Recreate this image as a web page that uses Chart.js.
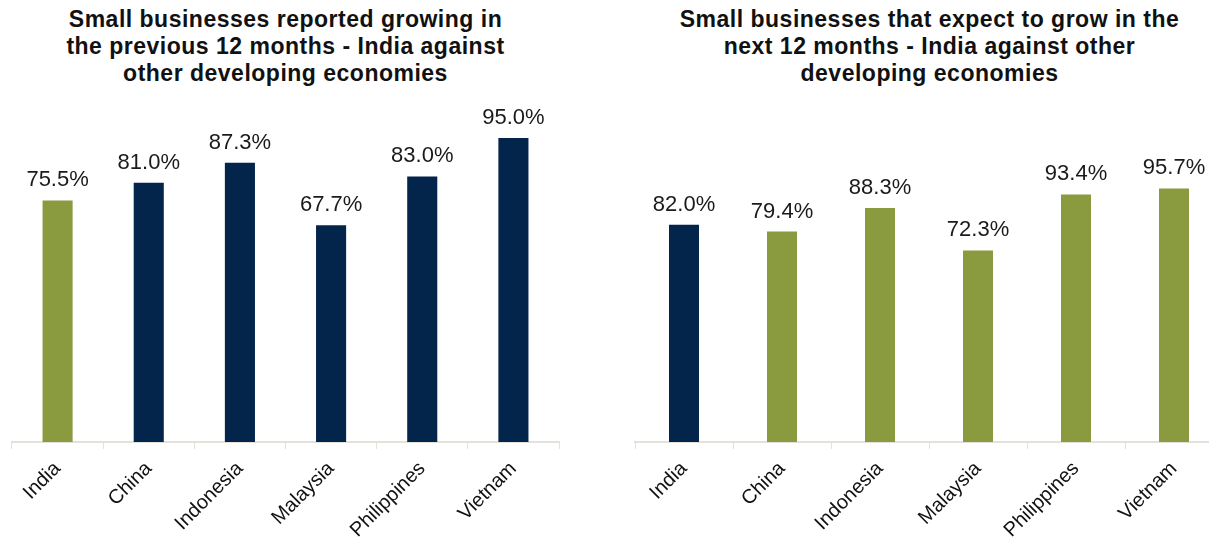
<!DOCTYPE html>
<html>
<head>
<meta charset="utf-8">
<script src="https://cdn.jsdelivr.net/npm/chart.js@4.4.1/dist/chart.umd.min.js"></script>
<style>
  html, body { margin: 0; padding: 0; background: #fff; width: 1209px; height: 537px; overflow: hidden; position: relative; }
  .title { position: absolute; top: 6px; font: bold 23px "Liberation Sans", Arial, sans-serif; color: #111; text-align: center; line-height: 27px; letter-spacing: 0.5px; }
  #t1 { left: 0; width: 571px; }
  #t2 { left: 629px; width: 601px; }
  .box { position: absolute; top: 0; height: 537px; }
  #b1 { left: 0; width: 600px; }
  #b2 { left: 610px; width: 640px; }
</style>
</head>
<body>
<div class="title" id="t1">Small businesses reported growing in<br>the previous 12 months - India against<br>other developing economies</div>
<div class="title" id="t2">Small businesses that expect to grow in the<br>next 12 months - India against other<br>developing economies</div>
<div class="box" id="b1"><canvas id="c1"></canvas></div>
<div class="box" id="b2"><canvas id="c2"></canvas></div>
<script>
const countries = ['India', 'China', 'Indonesia', 'Malaysia', 'Philippines', 'Vietnam'];
const grewPrev12 = [75.5, 81.0, 87.3, 67.7, 83.0, 95.0];
const expectNext12 = [82.0, 79.4, 88.3, 72.3, 93.4, 95.7];

const NAVY = '#03244b';
const GREEN = '#8a9a3f';

// percentage labels above each bar
const valueLabels = {
  id: 'valueLabels',
  afterDatasetsDraw(chart) {
    const ctx = chart.ctx;
    const meta = chart.getDatasetMeta(0);
    ctx.save();
    ctx.font = '22px "Liberation Sans", Arial, sans-serif';
    ctx.fillStyle = '#1a1a1a';
    ctx.textAlign = 'center';
    ctx.textBaseline = 'alphabetic';
    meta.data.forEach((bar, i) => {
      const v = chart.data.datasets[0].data[i];
      ctx.fillText(v.toFixed(1) + '%', bar.x, bar.y - 14);
    });
    ctx.restore();
  }
};

function makeChart(id, values, colors, pad, barPct) {
  new Chart(document.getElementById(id), {
    type: 'bar',
    data: {
      labels: countries,
      datasets: [{ data: values, backgroundColor: colors, borderWidth: 0, barPercentage: barPct, categoryPercentage: 1 }]
    },
    options: {
      responsive: true, maintainAspectRatio: false, animation: false,
      layout: { padding: pad },
      plugins: { legend: { display: false }, tooltip: { enabled: false } },
      scales: {
        x: {
          offset: true,
          grid: { display: true, drawOnChartArea: false, drawTicks: true, tickLength: 7, color: '#e4e1da', offset: true },
          border: { display: true, color: '#e4e1da', width: 2 },
          ticks: { color: '#111', font: { size: 20, family: '"Liberation Sans", Arial, sans-serif' }, minRotation: 45, maxRotation: 45, padding: 8 },
          afterFit: s => { s.height = 95; }
        },
        y: { display: false, min: 0, max: 100 }
      }
    },
    plugins: [valueLabels]
  });
}

const leftColors = countries.map(c => c === 'India' ? GREEN : NAVY);
const rightColors = countries.map(c => c === 'India' ? NAVY : GREEN);
makeChart('c1', grewPrev12, leftColors, { top: 122, left: 12, right: 41, bottom: 0 }, 0.33);
makeChart('c2', expectNext12, rightColors, { top: 177, left: 25, right: 27, bottom: 0 }, 0.306);
</script>
</body>
</html>
